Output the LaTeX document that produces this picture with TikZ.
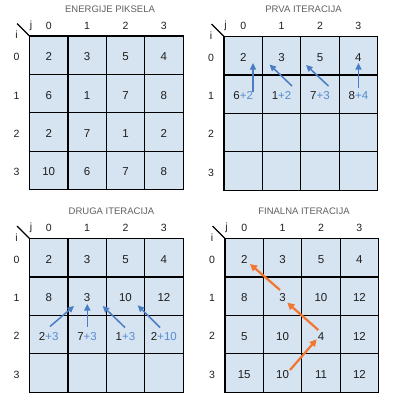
\documentclass[tikz,border=0pt]{standalone}
\usepackage{fontspec}
\setmainfont{Liberation Sans}
\usetikzlibrary{arrows.meta}
\definecolor{cellfill}{RGB}{214,227,240}
\definecolor{tblue}{RGB}{86,140,210}
\definecolor{ablue}{RGB}{74,126,196}
\definecolor{aorange}{RGB}{242,117,48}
\definecolor{titlegray}{RGB}{95,95,95}
\definecolor{txt}{RGB}{30,30,30}
\tikzset{
  cellbox/.style={draw=black, line width=1.2pt, fill=cellfill, minimum size=38.4pt,
    inner sep=0pt, outer sep=0pt, text=txt, text height=11pt, text depth=0pt,
    font=\fontsize{11.5}{12}\selectfont},
  hdr/.style={inner sep=0pt, text=txt, font=\fontsize{10.5}{11}\selectfont},
  titlestyle/.style={inner sep=0pt, text=titlegray, font=\fontsize{9.5}{10}\selectfont},
  slashline/.style={draw=black, line width=1.2pt},
  barrow/.style={draw=ablue, line width=1.5pt, -{Triangle[length=6.5pt,width=6pt]}},
  oarrow/.style={draw=aorange, line width=2.2pt, -{Triangle[length=7pt,width=7pt]}}
}
\newcommand\mygrid[6]{%
  \foreach \v [count=\k from 0] in {#6} {
    \pgfmathtruncatemacro\rr{\k/4}
    \pgfmathtruncatemacro\cc{mod(\k,4)}
    \node[cellbox] (#1-\rr-\cc) at ({#2+19.2+38.4*\cc},{#3+19.2+38.4*\rr}) {\v};
  }
  \node[titlestyle] (#1-title) at ({#2+#4},{#3-27}) {#5};
  \foreach \c in {0,...,3} \node[hdr] (#1-col\c) at ({#2+19.2+38.4*\c},{#3-10.5}) {\c};
  \foreach \r in {0,...,3} \node[hdr] (#1-row\r) at ({#2-13},{#3+21+38.4*\r}) {\r};
  \node[hdr] (#1-j) at ({#2+1.5},{#3-10.5}) {j};
  \node[hdr] (#1-i) at ({#2-13},{#3-1}) {i};
  \coordinate (#1-origin) at (#2,#3);
  \coordinate (#1-corner) at ({#2-12.5},{#3-12.5});
}
\newcommand\bl[1]{{\color{tblue}#1}}
\begin{document}
\begin{tikzpicture}[x=1pt,y=-1pt]
\useasboundingbox (0,0) rectangle (400,400);
\mygrid{a}{29.5}{36}{80.5}{ENERGIJE PIKSELA}{2,3,5,4,6,1,7,8,2,7,1,2,10,6,7,8}
\mygrid{b}{224}{36.5}{79.5}{PRVA ITERACIJA}{2,3,5,4,{6\bl{+2}},{1\bl{+2}},{7\bl{+3}},{8\bl{+4}},{},{},{},{},{},{},{},{}}
\mygrid{c}{29.5}{238.5}{82}{DRUGA ITERACIJA}{2,3,5,4,8,3,10,12,{2\bl{+3}},{7\bl{+3}},{1\bl{+3}},{2\bl{+10}},{},{},{},{}}
\mygrid{d}{225}{238.5}{79}{FINALNA ITERACIJA}{2,3,5,4,8,3,10,12,5,10,4,12,15,10,11,12}
\draw[slashline] (a-corner) -- (a-origin);
\draw[slashline] (b-corner) -- (b-origin);
\draw[slashline] (c-corner) -- (c-origin);
\draw[slashline] (d-corner) -- (d-origin);
% first iteration arrows
\coordinate (b1s) at (253,92); \coordinate (b1e) at (253,63);
\coordinate (b2s) at (292,86); \coordinate (b2e) at (269.5,64.5);
\coordinate (b3s) at (328.5,86); \coordinate (b3e) at (306,65);
\coordinate (b4s) at (358.5,88); \coordinate (b4e) at (358.5,63);
\draw[barrow] (b1s) -- (b1e);
\draw[barrow] (b2s) -- (b2e);
\draw[barrow] (b3s) -- (b3e);
\draw[barrow] (b4s) -- (b4e);
% second iteration arrows
\coordinate (c1s) at (50,326.5); \coordinate (c1e) at (74,306);
\coordinate (c2s) at (87.3,326.5); \coordinate (c2e) at (87.3,304);
\coordinate (c3s) at (125,327.5); \coordinate (c3e) at (102.7,306);
\coordinate (c4s) at (160,327.5); \coordinate (c4e) at (137.7,305.3);
\draw[barrow] (c1s) -- (c1e);
\draw[barrow] (c2s) -- (c2e);
\draw[barrow] (c3s) -- (c3e);
\draw[barrow] (c4s) -- (c4e);
% final path
\coordinate (d1s) at (280,290); \coordinate (d1e) at (250,264);
\coordinate (d2s) at (318.3,330); \coordinate (d2e) at (287.3,302.7);
\coordinate (d3s) at (290,370); \coordinate (d3e) at (316.7,339.3);
\draw[oarrow] (d1s) -- (d1e);
\draw[oarrow] (d2s) -- (d2e);
\draw[oarrow] (d3s) -- (d3e);
\end{tikzpicture}
\end{document}
